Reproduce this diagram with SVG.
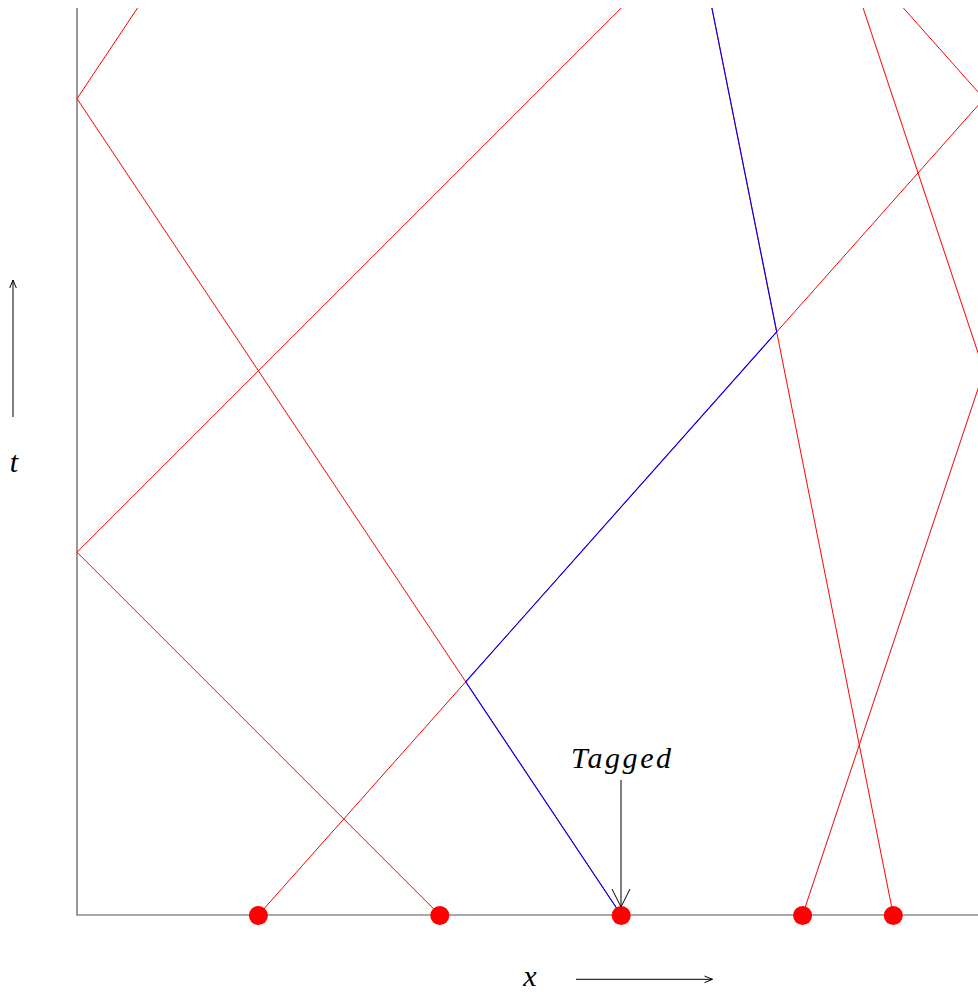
<svg xmlns="http://www.w3.org/2000/svg" width="978" height="992" viewBox="0 0 978 992">
<style>
.ax{stroke:#555;stroke-width:1.2;fill:none}
.r{stroke:#ff0000;stroke-width:1;fill:none}
.b{stroke:#0000ff;stroke-width:1.1;fill:none}
.k{stroke:#000;stroke-width:1;fill:none}
.dot{fill:#ff0000}
.lbl{font-style:italic;font-size:30px;fill:#000}
</style>
<rect width="978" height="992" fill="#fff"/>
<g id="axes">
<path class="ax" d="M77,8 V915 H984"/>
</g>
<g id="connectors">
<polyline class="r" points="439.8,915 77,552.2 621.2,8"/>
<polyline class="r" points="621.2,915 77,98.7 137.5,8"/>
<polyline class="r" points="258.4,915 984,98.7 903.4,8"/>
<polyline class="r" points="893.3,915 711.9,8"/>
<polyline class="r" points="802.6,915 984,370.8 863.1,8"/>
<polyline class="b" points="621.2,915 465.7,681.8 776.7,331.9 711.9,8"/>
</g>
<g id="particle-1"><circle class="dot" cx="258.4" cy="915.5" r="9.5"/></g>
<g id="particle-2"><circle class="dot" cx="439.8" cy="915.5" r="9.5"/></g>
<g id="particle-3"><circle class="dot" cx="621.2" cy="915.5" r="9.5"/></g>
<g id="particle-4"><circle class="dot" cx="802.6" cy="915.5" r="9.5"/></g>
<g id="particle-5"><circle class="dot" cx="893.3" cy="915.5" r="9.5"/></g>
<g id="tagged-label">
<text class="lbl" font-family="'Liberation Serif', 'DejaVu Serif', serif" x="621" y="768" text-anchor="middle" textLength="100" lengthAdjust="spacing">Tagged</text>
<path class="k" d="M621,780 V907 M612,889 L621,907 L630,889"/>
</g>
<g id="t-axis-label">
<path class="k" d="M13,417 V280 M9.7,288 L13,280 L16.3,288"/>
<text class="lbl" font-family="'Liberation Serif', 'DejaVu Serif', serif" x="14" y="472" text-anchor="middle">t</text>
</g>
<g id="x-axis-label">
<text class="lbl" font-family="'Liberation Serif', 'DejaVu Serif', serif" x="530" y="986" text-anchor="middle">x</text>
<path class="k" d="M576,979.3 H712.5 M704.5,976 L712.5,979.3 L704.5,982.6"/>
</g>
</svg>
